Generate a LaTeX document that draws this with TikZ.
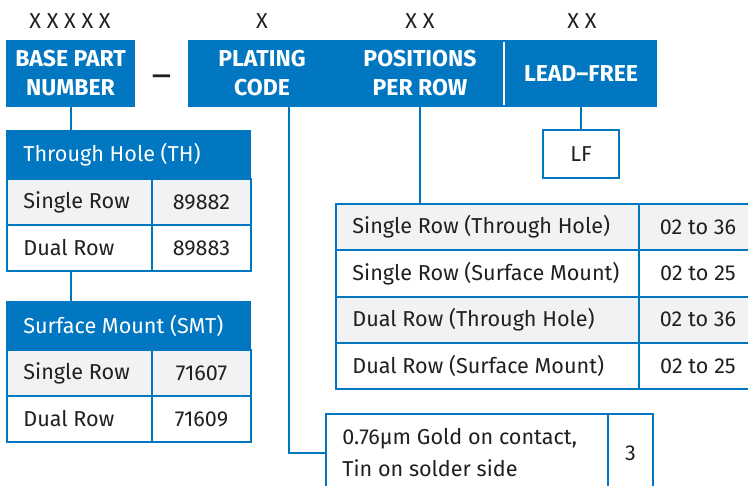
\documentclass[tikz,border=0pt]{standalone}
\usepackage{fontspec}
\setmainfont{Fira Sans}
\usetikzlibrary{positioning}
\definecolor{partblue}{HTML}{0077C0}
\definecolor{rowgrey}{HTML}{F1F2F4}
\definecolor{ink}{HTML}{231F20}
\tikzset{
  barbox/.style={fill=partblue, inner sep=0pt, text=white, align=center, font=\bfseries\fontsize{11.5}{14.5}\selectfont},
  hdrcell/.style={draw=partblue, fill=partblue, line width=1pt, inner sep=0pt, minimum height=24pt},
  cell/.style={draw=partblue, fill=white, line width=1pt, inner sep=0pt, text=ink, font=\fontsize{10.8}{13}\selectfont},
  greycell/.style={cell, fill=rowgrey},
  hdrtext/.style={text=white, inner xsep=0pt, font=\fontsize{10.8}{13}\selectfont},
  codetext/.style={text=ink, inner xsep=0pt, font=\fontsize{10.8}{16}\selectfont},
  conn/.style={draw=partblue, line width=1pt}
}

\begin{document}
\begin{tikzpicture}[x=0.5pt, y=-0.5pt]
  \useasboundingbox (0,0) rectangle (748,486);

  % code letters above the bar
  \foreach \t/\x in {X X X X X/70, X/262, X X/420, X X/582} {\node[codetext] at (\x,21) {\t};}

  % part number bar
  \node[barbox, minimum width=64.5pt, minimum height=33.5pt] (base) at (70.5,73.5) {BASE PART\\NUMBER};
  \node[codetext, font=\bfseries\fontsize{11.5}{14}\selectfont] (dash) at (161.5,79) {—};
  \node[barbox, minimum width=234.5pt, minimum height=33.5pt] (bar) at (422.5,73.5) {};
  \node[barbox] (plating) at (262,73.5) {PLATING\\CODE};
  \node[barbox] (positions) at (420,73.5) {POSITIONS\\PER ROW};
  \node[barbox] (leadfree) at (581,73.5) {LEAD–FREE};
  \draw[white, line width=0.8pt] (504,42) -- (504,105);

  % through hole table
  \begin{scope}
    \node[hdrcell, minimum width=121.5pt, anchor=north west] (thhead) at (6,130) {};
    \node[hdrtext, anchor=west] at ([xshift=8.5pt]thhead.west) {Through Hole (TH)};
    \foreach \r/\y/\name/\num/\sty in {1/178/Single Row/89882/greycell, 2/224/Dual Row/89883/cell} {
      \node[\sty, minimum width=72.5pt, minimum height=23pt, anchor=north west] (th\r l) at (6,\y) {};
      \node[\sty, minimum width=49.5pt, minimum height=23pt, anchor=north west] (th\r r) at (151,\y) {\num};
      \node[codetext, anchor=west] at ([xshift=8.5pt]th\r l.west) {\name};
    }
  \end{scope}

  % surface mount table
  \begin{scope}
    \node[hdrcell, minimum width=121.5pt, anchor=north west] (smhead) at (6,301) {};
    \node[hdrtext, anchor=west] at ([xshift=8.5pt]smhead.west) {Surface Mount (SMT)};
    \foreach \r/\y/\name/\num/\sty in {1/349/Single Row/71607/greycell, 2/395/Dual Row/71609/cell} {
      \node[\sty, minimum width=72.5pt, minimum height=23pt, anchor=north west] (sm\r l) at (6,\y) {};
      \node[\sty, minimum width=49.5pt, minimum height=23pt, anchor=north west] (sm\r r) at (151,\y) {\num};
      \node[codetext, anchor=west] at ([xshift=8.5pt]sm\r l.west) {\name};
    }
  \end{scope}

  % lead-free option
  \node[cell, minimum width=38pt, minimum height=24pt] (lf) at (581,154) {LF};

  % positions per row table
  \begin{scope}
    \foreach \r/\y/\name/\range/\sty in {1/203/Single Row (Through Hole)/02 to 36/greycell,
                                         2/249.25/Single Row (Surface Mount)/02 to 25/cell,
                                         3/295.5/Dual Row (Through Hole)/02 to 36/greycell,
                                         4/341.75/Dual Row (Surface Mount)/02 to 25/cell} {
      \node[\sty, minimum width=151.5pt, minimum height=23.125pt, anchor=north west] (ps\r l) at (335,\y) {};
      \node[\sty, minimum width=59pt, minimum height=23.125pt, anchor=north west] (ps\r r) at (638,\y) {\range};
      \node[codetext, anchor=west] at ([xshift=8.5pt]ps\r l.west) {\name};
    }
  \end{scope}

  % plating code option
  \node[cell, minimum width=141pt, minimum height=39pt, anchor=north west] (plcell) at (325,413) {};
  \node[cell, minimum width=22.5pt, minimum height=39pt, anchor=north west] (plnum) at (607,413) {3};
  \node[codetext, align=left, anchor=west] at ([xshift=8.5pt]plcell.west) {0.76µm Gold on contact,\\Tin on solder side};

  % connectors
  \coordinate (platetap) at (289,107);
  \draw[conn] (base.south) -- (base.south |- thhead.north);
  \draw[conn] (base.south |- th2l.south) -- (base.south |- smhead.north);
  \draw[conn] (positions |- bar.south) -- (positions |- ps1l.north);
  \draw[conn] (lf.north |- bar.south) -- (lf.north);
  \draw[conn] (platetap) |- (plcell.west);
\end{tikzpicture}
\end{document}
